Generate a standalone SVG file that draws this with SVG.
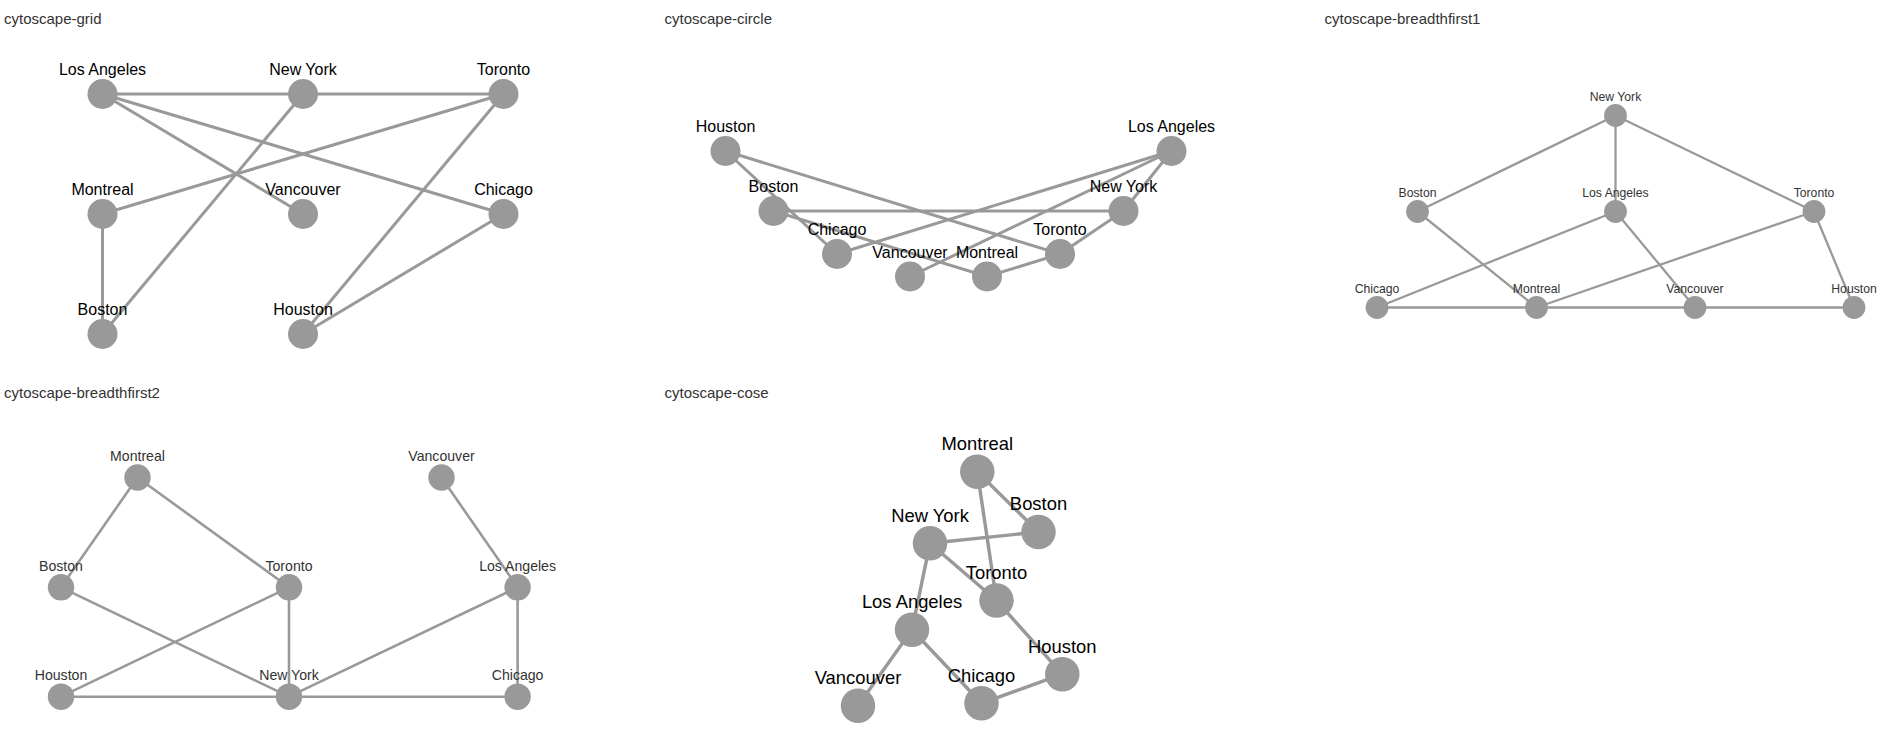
<svg xmlns="http://www.w3.org/2000/svg" width="1901" height="747" viewBox="0 0 1901 747">
  <style>
    text { font-family: "Liberation Sans", Arial, Helvetica, sans-serif; }
    .title { font-size: 15px; fill: #333; }
    .e line { stroke: #999; stroke-linecap: butt; }
    .n circle { fill: #999; }
    .n text { text-anchor: middle; fill: #000; }
    /* per-layout zoom levels */
    .z100 .e line { stroke-width: 3; }
    .z100 .n text { font-size: 16px; }
    .z076 .e line { stroke-width: 2.3; }
    .z076 .n text { font-size: 12.2px; fill: #333; }
    .z088 .e line { stroke-width: 2.6; }
    .z088 .n text { font-size: 14.1px; fill: #333; }
    .z115 .e line { stroke-width: 3.45; }
    .z115 .n text { font-size: 18.4px; }
  </style>
  <rect width="1901" height="747" fill="#fff"/>

  <!-- grid layout -->
  <g id="grid" class="z100">
    <text class="title" x="4" y="24">cytoscape-grid</text>
    <g id="grid-edges" class="e">
      <line x1="102.5" y1="94" x2="303" y2="94"/>
      <line x1="303" y1="94" x2="503.5" y2="94"/>
      <line x1="303" y1="94" x2="102.5" y2="334"/>
      <line x1="102.5" y1="214" x2="102.5" y2="334"/>
      <line x1="102.5" y1="214" x2="503.5" y2="94"/>
      <line x1="102.5" y1="94" x2="303" y2="214"/>
      <line x1="102.5" y1="94" x2="503.5" y2="214"/>
      <line x1="503.5" y1="94" x2="303" y2="334"/>
      <line x1="503.5" y1="214" x2="303" y2="334"/>
    </g>
    <g id="grid-losangeles" class="n"><circle cx="102.5" cy="94" r="15"/><text x="102.5" y="75">Los Angeles</text></g>
    <g id="grid-newyork" class="n"><circle cx="303" cy="94" r="15"/><text x="303" y="75">New York</text></g>
    <g id="grid-toronto" class="n"><circle cx="503.5" cy="94" r="15"/><text x="503.5" y="75">Toronto</text></g>
    <g id="grid-montreal" class="n"><circle cx="102.5" cy="214" r="15"/><text x="102.5" y="195">Montreal</text></g>
    <g id="grid-vancouver" class="n"><circle cx="303" cy="214" r="15"/><text x="303" y="195">Vancouver</text></g>
    <g id="grid-chicago" class="n"><circle cx="503.5" cy="214" r="15"/><text x="503.5" y="195">Chicago</text></g>
    <g id="grid-boston" class="n"><circle cx="102.5" cy="334" r="15"/><text x="102.5" y="315">Boston</text></g>
    <g id="grid-houston" class="n"><circle cx="303" cy="334" r="15"/><text x="303" y="315">Houston</text></g>
  </g>

  <!-- circle layout -->
  <g id="circle" class="z100">
    <text class="title" x="664.5" y="24">cytoscape-circle</text>
    <g id="circle-edges" class="e">
      <line x1="987" y1="276.5" x2="773.5" y2="211"/>
      <line x1="987" y1="276.5" x2="1060" y2="254"/>
      <line x1="773.5" y1="211" x2="1123.5" y2="211"/>
      <line x1="1123.5" y1="211" x2="1060" y2="254"/>
      <line x1="1123.5" y1="211" x2="1171.5" y2="151"/>
      <line x1="1171.5" y1="151" x2="910" y2="276.5"/>
      <line x1="1171.5" y1="151" x2="837" y2="254"/>
      <line x1="1060" y1="254" x2="725.5" y2="151"/>
      <line x1="837" y1="254" x2="725.5" y2="151"/>
    </g>
    <g id="circle-houston" class="n"><circle cx="725.5" cy="151" r="15"/><text x="725.5" y="132">Houston</text></g>
    <g id="circle-boston" class="n"><circle cx="773.5" cy="211" r="15"/><text x="773.5" y="192">Boston</text></g>
    <g id="circle-chicago" class="n"><circle cx="837" cy="254" r="15"/><text x="837" y="235">Chicago</text></g>
    <g id="circle-vancouver" class="n"><circle cx="910" cy="276.5" r="15"/><text x="910" y="257.5">Vancouver</text></g>
    <g id="circle-montreal" class="n"><circle cx="987" cy="276.5" r="15"/><text x="987" y="257.5">Montreal</text></g>
    <g id="circle-toronto" class="n"><circle cx="1060" cy="254" r="15"/><text x="1060" y="235">Toronto</text></g>
    <g id="circle-newyork" class="n"><circle cx="1123.5" cy="211" r="15"/><text x="1123.5" y="192">New York</text></g>
    <g id="circle-losangeles" class="n"><circle cx="1171.5" cy="151" r="15"/><text x="1171.5" y="132">Los Angeles</text></g>
  </g>

  <!-- breadthfirst layout rooted at New York -->
  <g id="breadthfirst1" class="z076">
    <text class="title" x="1324.5" y="24">cytoscape-breadthfirst1</text>
    <g id="breadthfirst1-edges" class="e">
      <line x1="1615.5" y1="115.5" x2="1417.5" y2="211.5"/>
      <line x1="1615.5" y1="115.5" x2="1615.5" y2="211.5"/>
      <line x1="1615.5" y1="115.5" x2="1814" y2="211.5"/>
      <line x1="1417.5" y1="211.5" x2="1536.5" y2="307.5"/>
      <line x1="1615.5" y1="211.5" x2="1377" y2="307.5"/>
      <line x1="1615.5" y1="211.5" x2="1695" y2="307.5"/>
      <line x1="1814" y1="211.5" x2="1536.5" y2="307.5"/>
      <line x1="1814" y1="211.5" x2="1854" y2="307.5"/>
      <line x1="1377" y1="307.5" x2="1854" y2="307.5"/>
    </g>
    <g id="breadthfirst1-newyork" class="n"><circle cx="1615.5" cy="115.5" r="11.4"/><text x="1615.5" y="101">New York</text></g>
    <g id="breadthfirst1-boston" class="n"><circle cx="1417.5" cy="211.5" r="11.4"/><text x="1417.5" y="197">Boston</text></g>
    <g id="breadthfirst1-losangeles" class="n"><circle cx="1615.5" cy="211.5" r="11.4"/><text x="1615.5" y="197">Los Angeles</text></g>
    <g id="breadthfirst1-toronto" class="n"><circle cx="1814" cy="211.5" r="11.4"/><text x="1814" y="197">Toronto</text></g>
    <g id="breadthfirst1-chicago" class="n"><circle cx="1377" cy="307.5" r="11.4"/><text x="1377" y="293">Chicago</text></g>
    <g id="breadthfirst1-montreal" class="n"><circle cx="1536.5" cy="307.5" r="11.4"/><text x="1536.5" y="293">Montreal</text></g>
    <g id="breadthfirst1-vancouver" class="n"><circle cx="1695" cy="307.5" r="11.4"/><text x="1695" y="293">Vancouver</text></g>
    <g id="breadthfirst1-houston" class="n"><circle cx="1854" cy="307.5" r="11.4"/><text x="1854" y="293">Houston</text></g>
  </g>

  <!-- breadthfirst layout rooted at Montreal and Vancouver -->
  <g id="breadthfirst2" class="z088">
    <text class="title" x="4" y="398">cytoscape-breadthfirst2</text>
    <g id="breadthfirst2-edges" class="e">
      <line x1="137.5" y1="477.5" x2="61" y2="587.3"/>
      <line x1="137.5" y1="477.5" x2="289" y2="587.3"/>
      <line x1="441.5" y1="477.5" x2="517.6" y2="587.3"/>
      <line x1="61" y1="587.3" x2="289" y2="696.7"/>
      <line x1="289" y1="587.3" x2="61" y2="696.7"/>
      <line x1="289" y1="587.3" x2="289" y2="696.7"/>
      <line x1="517.6" y1="587.3" x2="289" y2="696.7"/>
      <line x1="517.6" y1="587.3" x2="517.6" y2="696.7"/>
      <line x1="61" y1="696.7" x2="517.6" y2="696.7"/>
    </g>
    <g id="breadthfirst2-montreal" class="n"><circle cx="137.5" cy="477.5" r="13.2"/><text x="137.5" y="460.7">Montreal</text></g>
    <g id="breadthfirst2-vancouver" class="n"><circle cx="441.5" cy="477.5" r="13.2"/><text x="441.5" y="460.7">Vancouver</text></g>
    <g id="breadthfirst2-boston" class="n"><circle cx="61" cy="587.3" r="13.2"/><text x="61" y="570.5">Boston</text></g>
    <g id="breadthfirst2-toronto" class="n"><circle cx="289" cy="587.3" r="13.2"/><text x="289" y="570.5">Toronto</text></g>
    <g id="breadthfirst2-losangeles" class="n"><circle cx="517.6" cy="587.3" r="13.2"/><text x="517.6" y="570.5">Los Angeles</text></g>
    <g id="breadthfirst2-houston" class="n"><circle cx="61" cy="696.7" r="13.2"/><text x="61" y="679.9">Houston</text></g>
    <g id="breadthfirst2-newyork" class="n"><circle cx="289" cy="696.7" r="13.2"/><text x="289" y="679.9">New York</text></g>
    <g id="breadthfirst2-chicago" class="n"><circle cx="517.6" cy="696.7" r="13.2"/><text x="517.6" y="679.9">Chicago</text></g>
  </g>

  <!-- force-directed (cose) layout -->
  <g id="cose" class="z115">
    <text class="title" x="664.5" y="398">cytoscape-cose</text>
    <g id="cose-edges" class="e">
      <line x1="977.3" y1="471.7" x2="1038.5" y2="532"/>
      <line x1="977.3" y1="471.7" x2="996.5" y2="600.5"/>
      <line x1="930" y1="543.3" x2="1038.5" y2="532"/>
      <line x1="930" y1="543.3" x2="996.5" y2="600.5"/>
      <line x1="930" y1="543.3" x2="912" y2="629.7"/>
      <line x1="912" y1="629.7" x2="858" y2="705.8"/>
      <line x1="912" y1="629.7" x2="981.5" y2="703.3"/>
      <line x1="996.5" y1="600.5" x2="1062.3" y2="674.2"/>
      <line x1="981.5" y1="703.3" x2="1062.3" y2="674.2"/>
    </g>
    <g id="cose-montreal" class="n"><circle cx="977.3" cy="471.7" r="17.25"/><text x="977.3" y="450">Montreal</text></g>
    <g id="cose-boston" class="n"><circle cx="1038.5" cy="532" r="17.25"/><text x="1038.5" y="510.3">Boston</text></g>
    <g id="cose-newyork" class="n"><circle cx="930" cy="543.3" r="17.25"/><text x="930" y="521.6">New York</text></g>
    <g id="cose-toronto" class="n"><circle cx="996.5" cy="600.5" r="17.25"/><text x="996.5" y="578.8">Toronto</text></g>
    <g id="cose-losangeles" class="n"><circle cx="912" cy="629.7" r="17.25"/><text x="912" y="608">Los Angeles</text></g>
    <g id="cose-houston" class="n"><circle cx="1062.3" cy="674.2" r="17.25"/><text x="1062.3" y="652.5">Houston</text></g>
    <g id="cose-vancouver" class="n"><circle cx="858" cy="705.8" r="17.25"/><text x="858" y="684.1">Vancouver</text></g>
    <g id="cose-chicago" class="n"><circle cx="981.5" cy="703.3" r="17.25"/><text x="981.5" y="681.6">Chicago</text></g>
  </g>
</svg>
